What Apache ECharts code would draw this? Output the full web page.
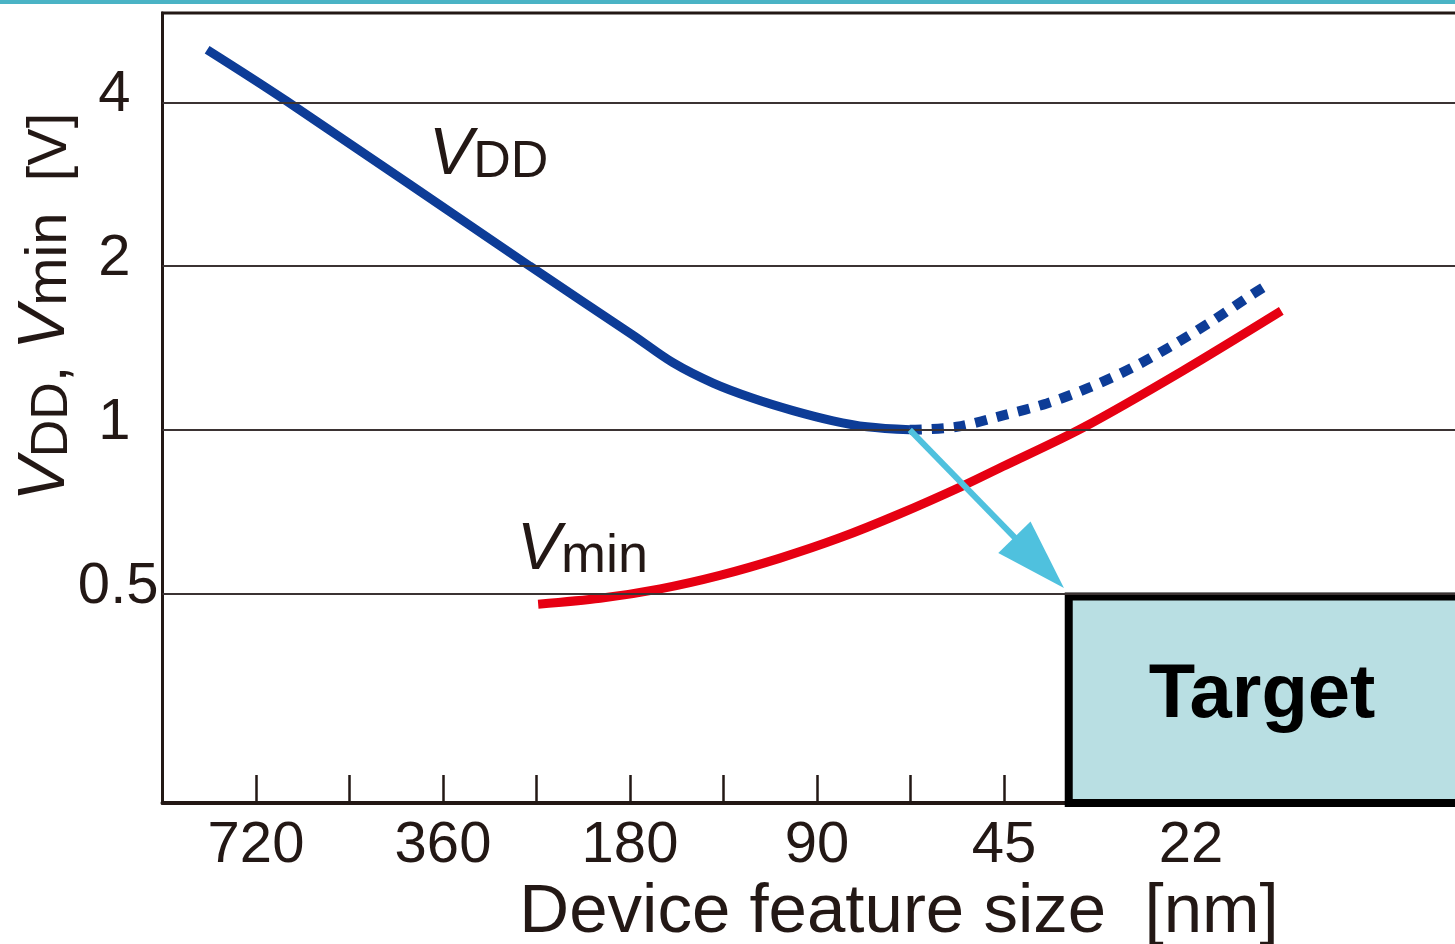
<!DOCTYPE html>
<html><head><meta charset="utf-8">
<script src="https://cdn.jsdelivr.net/npm/echarts@6/dist/echarts.min.js"></script>
<style>html,body{margin:0;padding:0;background:#fff}#c{width:1455px;height:944px}</style>
</head><body><div id="c"></div>
<script>
// ---- data (feature size in nm, voltage in V) ----
const tickLabels = ['720', '360', '180', '90', '45', '22'];
const refNode = 720;
const yTickValues = [0.5, 1, 2, 4];

const vddSolidSize = [863, 642, 261, 178, 153.5, 132.3, 114.1, 98.4, 84.8, 74.8, 63.8];
const vddSolidV    = [5.00, 4.02, 2.0, 1.493, 1.329, 1.219, 1.143, 1.085, 1.039, 1.013, 1.0];

const vddProjSize = [63.8, 53.6, 45.3, 38.4, 32.7, 28.0, 24.1, 20.8, 17.95, 16.8];
const vddProjV    = [1.0, 1.013, 1.062, 1.118, 1.198, 1.30, 1.43, 1.585, 1.773, 1.859];

const vminSize = [253, 201, 161, 129, 103.2, 82.7, 66.2, 52.4, 45.2, 33.6, 23.2, 16.1];
const vminV    = [0.478, 0.490, 0.510, 0.540, 0.581, 0.633, 0.701, 0.789, 0.856, 1.009, 1.284, 1.655];

const arrowSize = [63.8, 39.5];
const arrowV    = [1.0, 0.570];

const targetSize = 35.4;
const targetV = 0.494;

const vddLabelPos  = [379, 2.78];
const vminLabelPos = [273.7, 0.521];

// axis extents
const X_MIN = -0.5, X_MAX = 6.5;     // in node steps (halvings from 720 nm)
const Y_MIN = 0.206, Y_MAX = 5.84;   // volts

// ---- helpers ----
const toX = s => Math.log2(refNode / s);
const zip = (xs, ys) => xs.map((s, i) => [toX(s), ys[i]]);
const FONT = 'Liberation Sans, Arial, Helvetica, sans-serif';
const INK = '#231815';

const chart = echarts.init(document.getElementById('c'), null, {renderer: 'canvas'});
chart.setOption({
  animation: false,
  backgroundColor: '#ffffff',
  textStyle: {fontFamily: FONT, color: INK},
  graphic: [{
    type: 'rect', left: 0, top: 0, z: 100,
    shape: {width: 1455, height: 4},
    style: {fill: '#4ab3c5'}
  }],
  grid: {
    left: 162.5, right: -16.5, top: 13, bottom: 141,
    containLabel: false, outerBoundsMode: 'none',
    show: true, borderColor: INK, borderWidth: 3, backgroundColor: 'transparent'
  },
  xAxis: {
    type: 'value', min: X_MIN, max: X_MAX, interval: 0.5,
    axisLine: {show: true, onZero: false, lineStyle: {color: INK, width: 4}},
    axisTick: {show: true, inside: true, length: 28, lineStyle: {color: INK, width: 2.5}},
    splitLine: {show: false},
    axisLabel: {
      margin: 14, fontSize: 58, color: INK, fontFamily: FONT,
      formatter: v => {
        const r = Math.round(v);
        if (Math.abs(v - r) > 1e-6 || r < 0 || r >= tickLabels.length) return '';
        return tickLabels[r];
      }
    },
    name: 'Device feature size  [nm]',
    nameLocation: 'middle', nameGap: 75, nameMoveOverlap: false,
    nameTextStyle: {fontSize: 69, color: INK, fontFamily: FONT, padding: [0, 0, 0, 164]}
  },
  yAxis: {
    type: 'log', logBase: 2, min: Y_MIN, max: Y_MAX,
    axisLine: {show: true, onZero: false, lineStyle: {color: INK, width: 3}},
    axisTick: {show: false},
    splitLine: {show: false},
    axisLabel: {
      margin: 4, color: INK, fontFamily: FONT,
      formatter: v => {
        const t = yTickValues.find(t => Math.abs(v - t) / t < 1e-3);
        if (t === undefined) return '';
        return (t < 1 ? '{b|' : '{a|') + String(t) + '}';
      },
      rich: {
        a: {fontSize: 58, color: INK, fontFamily: FONT, padding: [0, 28, 14, 0]},
        b: {fontSize: 58, color: INK, fontFamily: FONT, padding: [0, 0, 14, 0]}
      }
    },
    name: '{v|V}{s|DD}{m|, }{v|V}{m|min}{n|  [V]}',
    nameLocation: 'middle', nameRotate: 90, nameGap: 84, nameMoveOverlap: false,
    nameTextStyle: {
      padding: [0, 0, 0, 202],
      rich: {
        v: {fontSize: 66, fontStyle: 'italic', color: INK, fontFamily: FONT, verticalAlign: 'bottom'},
        s: {fontSize: 52, color: INK, fontFamily: FONT, verticalAlign: 'bottom'},
        m: {fontSize: 58, color: INK, fontFamily: FONT, verticalAlign: 'bottom'},
        n: {fontSize: 56, color: INK, fontFamily: FONT, verticalAlign: 'bottom'}
      }
    }
  },
  series: [
    { // grid lines
      type: 'line', data: [], z: 1, silent: true,
      markLine: {
        silent: true, symbol: 'none', label: {show: false},
        lineStyle: {color: '#3b3333', width: 2, type: 'solid'},
        emphasis: {disabled: true},
        data: yTickValues.map(v => ({yAxis: v}))
      }
    },
    {
      name: 'Vmin', type: 'line', z: 3, data: zip(vminSize, vminV),
      showSymbol: false, smooth: 0.3,
      lineStyle: {color: '#e60012', width: 9, cap: 'butt'}
    },
    {
      name: 'VDD', type: 'line', z: 4, data: zip(vddSolidSize, vddSolidV),
      showSymbol: false, smooth: 0.35,
      lineStyle: {color: '#0d3c97', width: 9, cap: 'butt'}
    },
    {
      name: 'VDD projected', type: 'line', z: 4, data: zip(vddProjSize, vddProjV),
      showSymbol: false, smooth: 0.3,
      lineStyle: {color: '#0d3c97', width: 10, type: [12, 10], cap: 'butt'}
    },
    { // arrow
      type: 'line', data: [], z: 5, silent: true,
      markLine: {
        silent: true, symbol: ['none', 'triangle'], symbolSize: [45, 71],
        label: {show: false}, emphasis: {disabled: true},
        lineStyle: {color: '#4fc1de', width: 6, type: 'solid'},
        itemStyle: {color: '#4fc1de'},
        data: [[{coord: [toX(arrowSize[0]), arrowV[0]]}, {coord: [toX(arrowSize[1]), arrowV[1]]}]]
      }
    },
    { // target box
      type: 'line', data: [], z: 6, silent: true,
      markArea: {
        silent: true, emphasis: {disabled: true},
        itemStyle: {color: '#b9dfe3', opacity: 1, borderColor: '#000000', borderWidth: 8},
        label: {
          show: true, position: 'inside', formatter: 'Target',
          fontSize: 76, fontWeight: 'bold', color: '#000000', fontFamily: FONT, offset: [-8, -4]
        },
        data: [[{coord: [toX(targetSize), targetV]}, {coord: [X_MAX, Y_MIN]}]]
      }
    },
    { // curve labels
      type: 'line', data: [], z: 7, silent: true,
      markPoint: {
        silent: true, symbol: 'circle', symbolSize: 0,
        emphasis: {disabled: true},
        label: {
          show: true, position: [0, 0], align: 'left', verticalAlign: 'bottom',
          rich: {
            v: {fontSize: 66, fontStyle: 'italic', color: INK, fontFamily: FONT, verticalAlign: 'bottom'},
            s: {fontSize: 52, color: INK, fontFamily: FONT, verticalAlign: 'bottom'},
            m: {fontSize: 54, color: INK, fontFamily: FONT, verticalAlign: 'bottom'}
          }
        },
        data: [
          {coord: [toX(vddLabelPos[0]), vddLabelPos[1]], label: {formatter: '{v|V}{s|DD}'}},
          {coord: [toX(vminLabelPos[0]), vminLabelPos[1]], label: {formatter: '{v|V}{m|min}'}}
        ]
      }
    }
  ]
});
</script>
</body></html>
